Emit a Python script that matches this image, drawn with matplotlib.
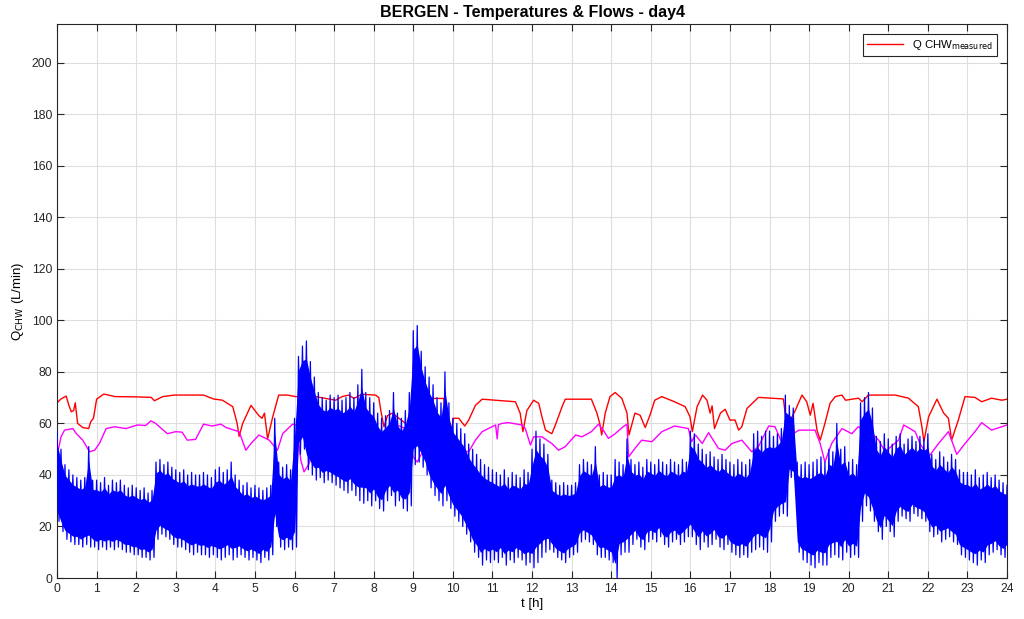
import numpy as np
import matplotlib
matplotlib.use("Agg")
import matplotlib.pyplot as plt

plt.rcParams["font.family"] = ["Liberation Sans", "DejaVu Sans"]

# measured flow (red)
red_t = [0, 0.1, 0.23, 0.3, 0.36, 0.42, 0.46, 0.52, 0.65, 0.8, 0.85, 0.92, 1.0, 1.18, 1.47,
         2.0, 2.38, 2.46, 2.67, 2.96, 3.7, 3.95, 4.18, 4.44, 4.55, 4.6, 4.69, 4.9, 5.1, 5.18,
         5.24, 5.32, 5.45, 5.6, 5.82, 6.03, 6.5, 7.04, 7.2, 7.37, 7.5, 7.7, 8.05, 8.13, 8.18,
         8.26, 8.35, 8.47, 8.72, 8.93, 9.1, 9.3, 9.4, 9.77, 9.8, 9.9, 10.02, 10.15, 10.3, 10.4,
         10.57, 10.74, 11.08, 11.58, 11.7, 11.77, 11.87, 12.04, 12.17, 12.25, 12.34, 12.5,
         12.59, 12.76, 12.84, 13.5, 13.64, 13.72, 13.76, 13.85, 13.97, 14.1, 14.27, 14.4,
         14.45, 14.6, 14.73, 14.86, 14.98, 15.1, 15.28, 15.6, 15.87, 15.99, 16.05, 16.17,
         16.31, 16.42, 16.5, 16.55, 16.61, 16.76, 16.88, 17.0, 17.13, 17.22, 17.3, 17.43,
         17.72, 18.35, 18.44, 18.65, 18.82, 18.94, 19.03, 19.1, 19.2, 19.28, 19.4, 19.53,
         19.66, 19.83, 19.92, 20.08, 20.25, 20.34, 20.5, 20.84, 21.18, 21.51, 21.76, 21.85,
         21.9, 22.02, 22.23, 22.4, 22.52, 22.6, 22.77, 22.94, 23.19, 23.36, 23.61, 23.87, 24]
red_v = [68, 69.5, 70.6, 67, 64.5, 65, 68, 60, 58.4, 58, 60.6, 62, 69.4, 71.4, 70.4,
         70.3, 70.1, 68.8, 70.4, 71, 71, 69.5, 69, 66.5, 60, 55, 60, 67, 63, 62,
         64, 54, 62.6, 71, 71, 70.4, 70.5, 69, 70.4, 71, 69.7, 71.3, 71, 70, 65,
         58.7, 63, 64, 61, 58.7, 62, 68, 69.7, 69.7, 64, 52, 62, 62, 59, 61.3,
         67, 69.4, 69, 68.4, 64, 56.8, 65, 69, 67.8, 62.6, 57.4, 56,
         59.4, 66.5, 69.4, 69.4, 64, 59.4, 55.5, 64, 70.4, 72, 69.7, 64,
         55.5, 64, 63.2, 58.4, 63.2, 69, 70.4, 68.4, 66.5, 62.6, 56.8, 66.5,
         71, 69, 64, 66.8, 58, 64, 65.5, 61.3, 61.3, 57.4, 58.7, 65.8,
         70.1, 69.5, 58.7, 65, 71, 68.4, 63.2, 67.8, 57.4, 53.5, 60, 67.8,
         70.4, 71, 69, 69.4, 69.8, 68.4, 71, 71, 71, 69.8, 66.5, 58.7,
         52.9, 62.6, 69.4, 64, 62, 53.5, 61.3, 70.4, 70.1, 68.4, 69.8, 69, 69.4]

# second flow (magenta)
mag_t = [0, 0.05, 0.1, 0.19, 0.4, 0.49, 0.65, 0.82, 0.95, 1.07, 1.24, 1.45, 1.74, 2.03, 2.24,
         2.37, 2.49, 2.79, 3.0, 3.16, 3.29, 3.5, 3.7, 3.92, 4.14, 4.27, 4.6, 4.77, 4.9, 5.1,
         5.36, 5.57, 5.7, 5.95, 6.05, 6.16, 6.24, 6.37, 6.45, 6.7, 7.0, 7.5, 8.0, 8.2, 8.5,
         8.8, 9.0, 9.1, 9.2, 9.5, 9.9, 10.1, 10.4, 10.57, 10.74, 11.08, 11.12, 11.15, 11.24,
         11.4, 11.75, 11.83, 11.96, 12.04, 12.25, 12.5, 12.67, 12.84, 13.1, 13.26, 13.5,
         13.68, 13.8, 13.93, 14.1, 14.3, 14.4, 14.44, 14.6, 14.77, 15.03, 15.28, 15.6, 15.95,
         16.03, 16.13, 16.3, 16.46, 16.71, 16.88, 17.05, 17.3, 17.55, 17.72, 17.98, 18.14,
         18.3, 18.48, 18.74, 19.15, 19.28, 19.4, 19.57, 19.83, 20.08, 20.24, 20.34, 20.5,
         20.76, 20.92, 21.26, 21.39, 21.68, 21.8, 22.02, 22.27, 22.52, 22.73, 22.94, 23.19,
         23.36, 23.61, 24]
mag_v = [48, 51, 54.8, 57.4, 58, 56, 53.5, 49, 49.6, 52.2, 58, 58.7, 58, 59.4, 59.2,
         61, 60, 56, 56.8, 56.6, 53.5, 53.8, 59.7, 59, 59.7, 58.4, 56.8, 49.6, 52.2, 55.5,
         53.5, 49.6, 56, 59.7, 59.4, 45.7, 41.2, 44.4, 50, 54, 55, 56, 55, 54, 60,
         58, 47, 45, 48, 50, 50, 50, 49, 53.5, 56.8, 59.4, 54, 59.5, 60,
         60.3, 59.4, 58, 51.6, 54.8, 54.8, 52.2, 49.6, 51, 55.5, 54.8, 56.8,
         59.7, 57.4, 54.2, 56, 58.7, 59.7, 47, 50.3, 53.5, 52.9, 56.8, 59, 58,
         52.9, 55.5, 52.2, 56.4, 50.3, 49.6, 52.2, 53.5, 49, 51, 59, 58.7,
         52.9, 54.8, 57.4, 57.4, 52.2, 45, 52.2, 58, 56, 58.7, 58, 57.4,
         53.5, 49, 53.5, 59.4, 56.8, 52.2, 47, 52.2, 56.8, 48, 52.2, 56.8,
         60.3, 57.4, 59.4]

# noisy flow (blue): upper / lower envelope every 0.1 h
blue_hi = [57, 50, 44, 42, 40, 39, 38, 39, 51, 38,
           38, 37, 39, 36, 38, 37, 38, 36, 35, 36,
           35, 34, 35, 33, 34, 45, 46, 44, 45, 43,
           42, 41, 42, 40, 41, 40, 40, 41, 40, 39,
           42, 43, 41, 42, 45, 40, 38, 36, 37, 35,
           36, 35, 34, 35, 36, 62, 45, 43, 44, 42,
           62, 86, 90, 92, 84, 78, 72, 70, 69, 71,
           70, 71, 69, 70, 72, 70, 75, 81, 72, 70,
           68, 64, 62, 63, 65, 72, 64, 62, 65, 72,
           96, 98, 88, 82, 78, 75, 70, 68, 80, 68,
           62, 60, 58, 56, 52, 50, 48, 46, 44, 43,
           42, 41, 40, 42, 39, 41, 40, 39, 42, 41,
           50, 57, 54, 52, 48, 38, 37, 36, 37, 36,
           36, 37, 44, 46, 45, 44, 51, 40, 41, 40,
           40, 46, 45, 44, 54, 46, 44, 45, 43, 46,
           45, 44, 46, 45, 44, 46, 45, 44, 46, 45,
           57, 56, 52, 50, 48, 49, 47, 46, 48, 46,
           45, 44, 46, 45, 44, 46, 56, 57, 55, 57,
           57, 55, 56, 58, 71, 67, 66, 45, 44, 45,
           44, 45, 46, 47, 45, 50, 49, 60, 50, 51,
           45, 46, 44, 68, 70, 72, 66, 55, 53, 56,
           54, 52, 55, 56, 52, 54, 55, 53, 55, 54,
           56, 48, 46, 49, 47, 45, 48, 46, 42, 41,
           41, 40, 42, 39, 40, 41, 39, 40, 38, 37,
           36]
blue_lo = [22, 18, 15, 14, 13, 13, 12, 13, 12, 12,
           11, 12, 11, 12, 11, 12, 11, 10, 10, 9,
           9, 8, 8, 7, 8, 15, 17, 16, 15, 13,
           12, 12, 11, 10, 9, 10, 9, 9, 8, 9,
           8, 7, 8, 9, 7, 8, 9, 8, 7, 8,
           7, 6, 8, 7, 9, 20, 12, 11, 12, 11,
           12, 48, 50, 42, 40, 38, 39, 37, 38, 37,
           36, 35, 34, 33, 34, 32, 30, 29, 30, 28,
           30, 27, 26, 30, 32, 28, 30, 27, 26, 28,
           44, 45, 43, 40, 35, 32, 30, 28, 30, 27,
           24, 22, 20, 17, 14, 10, 8, 5, 7, 6,
           7, 6, 8, 5, 7, 6, 8, 7, 5, 6,
           4, 6, 8, 10, 11, 10, 8, 7, 6, 8,
           9, 10, 14, 15, 14, 13, 9, 8, 8, 7,
           6, 0, 9, 10, 10, 13, 15, 12, 11, 14,
           15, 14, 16, 13, 12, 14, 15, 13, 14, 16,
           16, 13, 11, 14, 12, 13, 15, 12, 11, 13,
           10, 9, 8, 9, 8, 10, 11, 12, 11, 10,
           14, 22, 24, 25, 24, 39, 38, 10, 7, 6,
           5, 4, 6, 5, 5, 8, 9, 8, 7, 10,
           8, 9, 8, 22, 28, 26, 22, 18, 15, 20,
           18, 16, 22, 24, 23, 22, 25, 24, 23, 22,
           18, 16, 17, 14, 15, 16, 14, 13, 9, 8,
           7, 6, 5, 7, 6, 9, 10, 11, 9, 8,
           10]

x_ticks = list(range(0, 25))
y_ticks = [0, 20, 40, 60, 80, 100, 120, 140, 160, 180, 200]

fig = plt.figure(figsize=(10.24, 6.19), dpi=100)
ax = fig.add_axes([0.0557, 0.0662, 0.9277, 0.895])

ln_red, = ax.plot(red_t, red_v, color="#ff0000", lw=1.0, zorder=2,
                  label="Q CHW$_{\\mathrm{measured}}$")
ax.plot(mag_t, mag_v, color="#ff00ff", lw=1.0, zorder=2)

# blue signal: solid core plus zigzag out to the envelopes, on top of the others
bt = np.arange(len(blue_hi)) * 0.1
hi = np.array(blue_hi, dtype=float)
lo = np.array(blue_lo, dtype=float)
span = hi - lo
ax.fill_between(bt, lo + 0.12 * span, hi - 0.14 * span, color="#0000ff", lw=0, zorder=3)
zx = np.ravel(np.column_stack([bt, bt + 0.05]))[:-1]
zy = np.ravel(np.column_stack([hi, lo]))[:-1]
ax.plot(zx, zy, color="#0000ff", lw=0.9, zorder=3)

ax.set_xlim(0, 24)
ax.set_ylim(0, 215)
ax.set_xticks(x_ticks)
ax.set_yticks(y_ticks)
ax.grid(True, color="#dedede", lw=0.8)
ax.set_axisbelow(True)
ax.tick_params(direction="in", top=True, right=True, labelsize=8.7,
               colors="#262626", length=5, width=0.8)
for s in ax.spines.values():
    s.set_color("#262626")
    s.set_linewidth(0.8)

ax.set_title("BERGEN - Temperatures & Flows - day4", fontsize=11.5,
             fontweight="bold", pad=5)
ax.set_xlabel("t [h]", fontsize=9.5, labelpad=2)
ax.set_ylabel("Q$_{\\mathrm{CHW}}$ (L/min)", fontsize=9.5, labelpad=4)

leg = ax.legend(handles=[ln_red], loc="upper right", fontsize=8.2,
                fancybox=False, framealpha=1, edgecolor="#262626",
                borderaxespad=0.9, handlelength=3.2, borderpad=0.35)
leg.get_frame().set_linewidth(0.8)

fig.savefig("out.png", dpi=100)
